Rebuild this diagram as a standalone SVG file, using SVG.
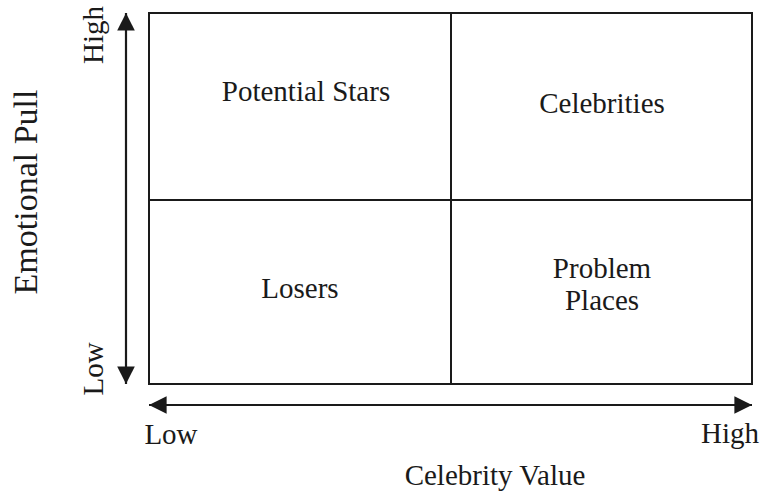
<svg xmlns="http://www.w3.org/2000/svg" width="762" height="492" viewBox="0 0 762 492">
  <style>
    .txt { font-family: "Liberation Serif", "Times New Roman", serif; font-size: 29px; fill: #1a1a1a; text-anchor: middle; }
    .axis-title { font-size: 34px; }
    .frame { fill: none; stroke: #1a1a1a; stroke-width: 2; }
    .axis { stroke: #1a1a1a; stroke-width: 2.2; fill: none; }
  </style>
  <defs>
    <marker id="head" viewBox="0 0 10 10" refX="10" refY="5" markerWidth="8" markerHeight="8" markerUnits="strokeWidth" orient="auto-start-reverse">
      <path d="M0,0 L10,5 L0,10 z" fill="#1a1a1a"/>
    </marker>
  </defs>
  <rect width="762" height="492" fill="#ffffff"/>

  <!-- quadrant grid -->
  <g id="grid">
    <rect class="frame" x="149" y="13" width="603" height="371"/>
    <line class="frame" x1="451" y1="13" x2="451" y2="384"/>
    <line class="frame" x1="149" y1="200" x2="752" y2="200"/>
  </g>

  <g id="potential-stars"><text class="txt" x="306" y="101">Potential Stars</text></g>
  <g id="celebrities"><text class="txt" x="602" y="113">Celebrities</text></g>
  <g id="losers"><text class="txt" x="300" y="298">Losers</text></g>
  <g id="problem-places">
    <text class="txt" x="602" y="278">Problem</text>
    <text class="txt" x="602" y="310">Places</text>
  </g>

  <!-- axes -->
  <g id="connectors">
    <line class="axis" x1="126" y1="384" x2="126" y2="13" marker-start="url(#head)" marker-end="url(#head)"/>
    <line class="axis" x1="149" y1="405" x2="752" y2="405" marker-start="url(#head)" marker-end="url(#head)"/>
  </g>

  <g id="y-axis-labels">
    <text class="txt" transform="translate(103,35) rotate(-90)">High</text>
    <text class="txt" transform="translate(103,369) rotate(-90)">Low</text>
    <text class="txt axis-title" transform="translate(37,192) rotate(-90)">Emotional Pull</text>
  </g>
  <g id="x-axis-labels">
    <text class="txt" x="171" y="444">Low</text>
    <text class="txt" x="730" y="443">High</text>
    <text class="txt" x="495" y="485">Celebrity Value</text>
  </g>
</svg>
